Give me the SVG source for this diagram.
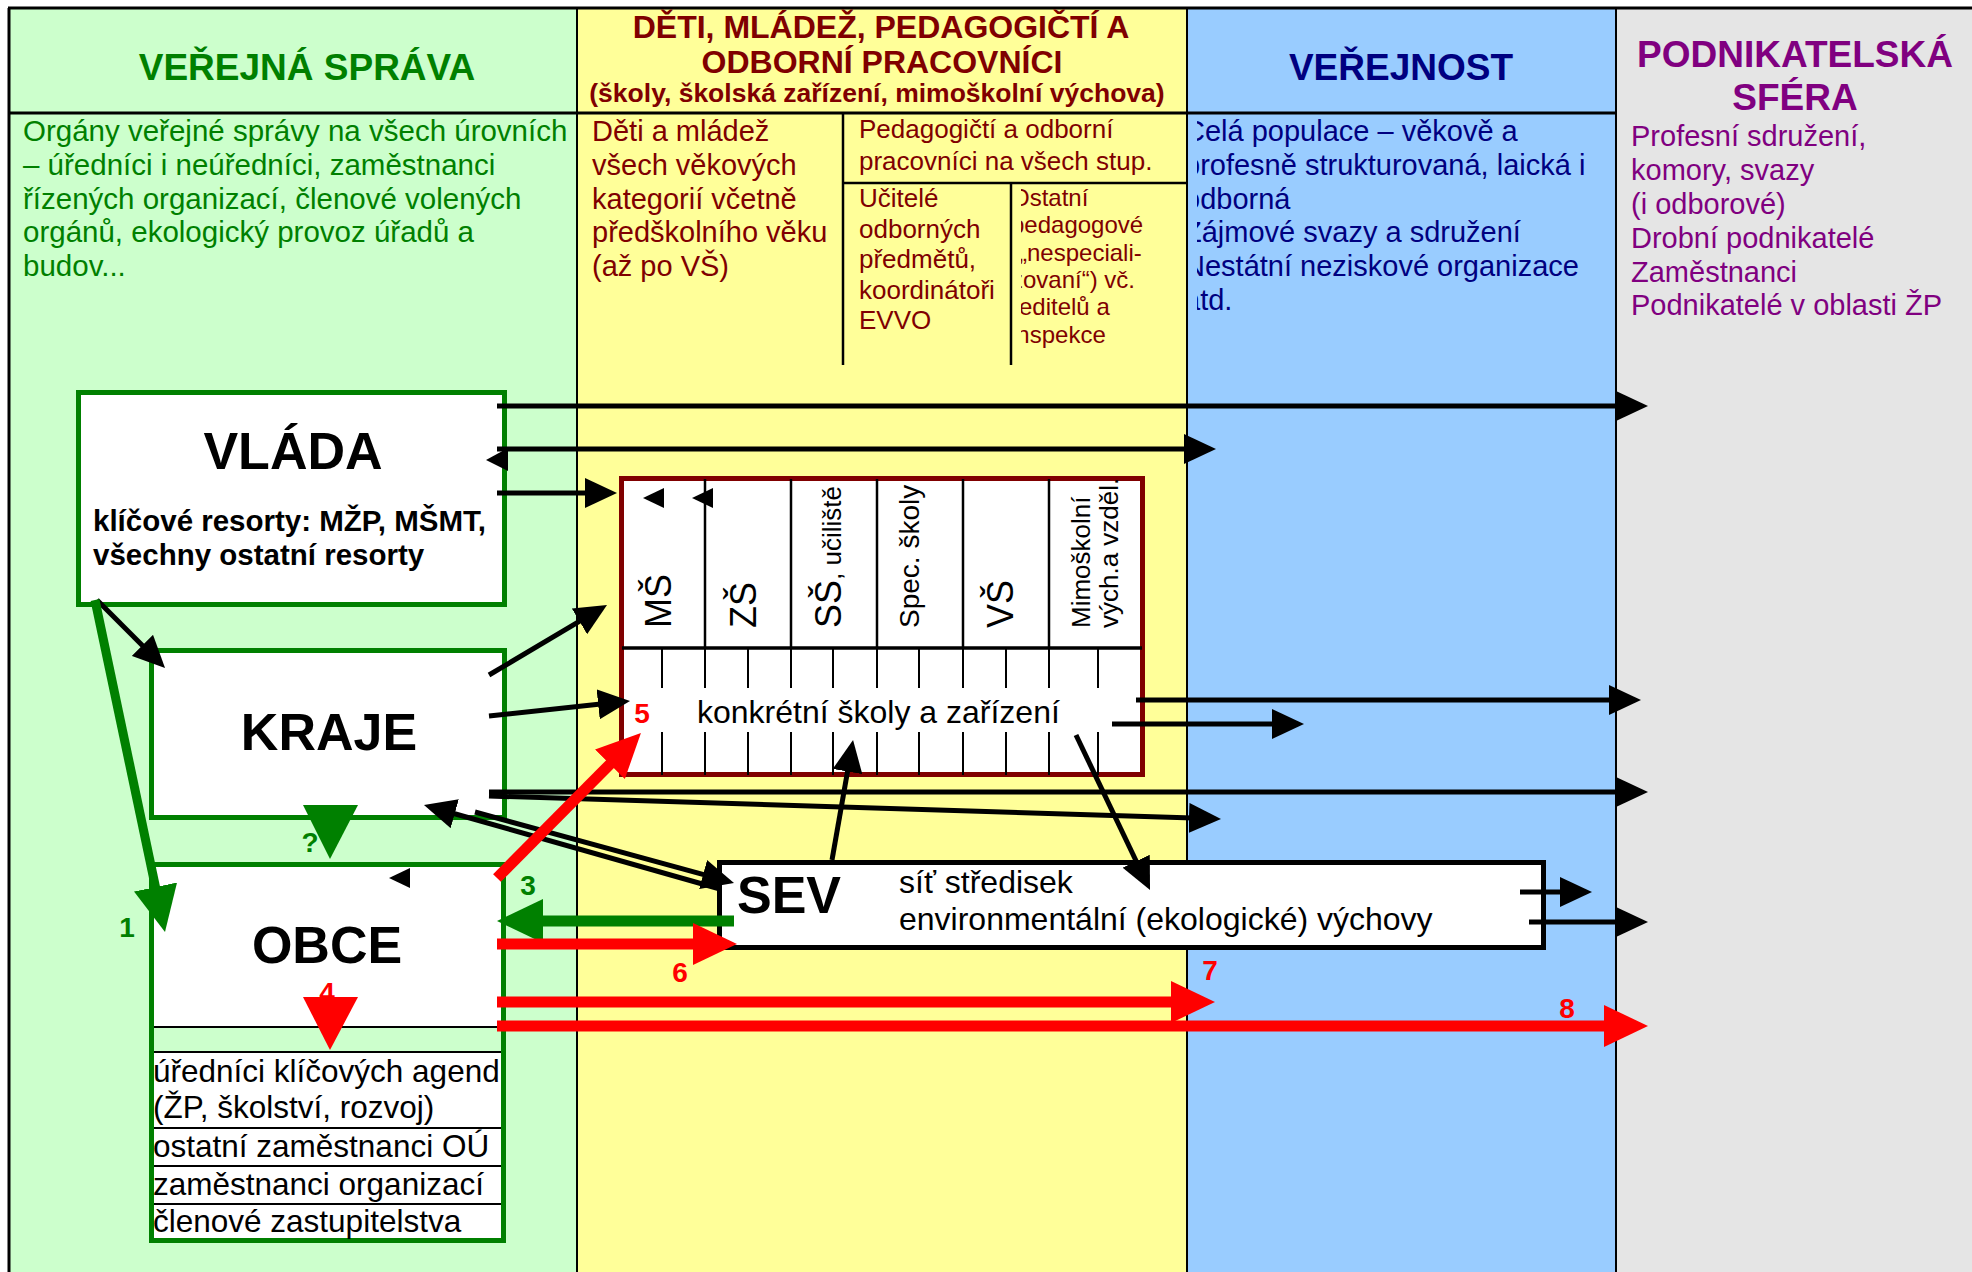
<svg xmlns="http://www.w3.org/2000/svg" width="1972" height="1272" viewBox="0 0 1972 1272">
<style>
text{font-family:"Liberation Sans",Arial,sans-serif}
.hd{font-weight:bold;font-size:37px;text-anchor:middle}
.bd{font-size:29px}
.g{fill:#008000}
.dr{fill:#800000}
.nv{fill:#000080}
.pu{fill:#800080}
.grid{stroke:#000;stroke-width:2.5;fill:none}
.box{fill:#fff;stroke:#008000;stroke-width:5}
.ln{stroke:#000;stroke-width:5;fill:none}
.thin{stroke:#000;stroke-width:2;fill:none}
.lr{stroke:#f00;stroke-width:11;fill:none}
.lg{stroke:#008000;stroke-width:11;fill:none}
.num{font-size:28px;font-weight:bold;text-anchor:middle}
.big{font-size:52px;font-weight:bold;text-anchor:middle}
.vt{font-size:36px}
</style>
<defs>
<marker id="ab" markerUnits="userSpaceOnUse" viewBox="0 0 32 30" markerWidth="32" markerHeight="30" refX="12" refY="15" orient="auto"><path d="M0,0L32,15L0,30z" fill="#000"/></marker>
<marker id="ar" markerUnits="userSpaceOnUse" viewBox="0 0 44 42" markerWidth="44" markerHeight="42" refX="14" refY="21" orient="auto"><path d="M0,0L44,21L0,42z" fill="#f00"/></marker>
<marker id="ag" markerUnits="userSpaceOnUse" viewBox="0 0 46 44" markerWidth="46" markerHeight="44" refX="16" refY="22" orient="auto"><path d="M0,0L46,22L0,44z" fill="#008000"/></marker>
<clipPath id="cb"><rect x="1197" y="114" width="418" height="250"/></clipPath>
<clipPath id="cy"><rect x="1021" y="184" width="165" height="180"/></clipPath>
</defs>

<g id="background">
<rect x="0" y="0" width="1972" height="1272" fill="#fff"/>
<rect x="8" y="8" width="569" height="1264" fill="#CCFFCC"/>
<rect x="577" y="8" width="610" height="1264" fill="#FFFF99"/>
<rect x="1187" y="8" width="429" height="1264" fill="#99CCFF"/>
<rect x="1616" y="8" width="356" height="1264" fill="#E5E5E5"/>
<line x1="8" y1="8" x2="1972" y2="8" stroke="#000" stroke-width="3"/>
<line x1="9" y1="8" x2="9" y2="1272" stroke="#000" stroke-width="3"/>
<line x1="577" y1="8" x2="577" y2="1272" stroke="#000" stroke-width="2"/>
<line x1="1187" y1="8" x2="1187" y2="1272" stroke="#000" stroke-width="2"/>
<line x1="1616" y1="8" x2="1616" y2="1272" stroke="#000" stroke-width="2"/>
<line x1="9" y1="113" x2="1616" y2="113" stroke="#000" stroke-width="3"/>
<line class="grid" x1="843" y1="113" x2="843" y2="365"/>
<line class="grid" x1="843" y1="183" x2="1187" y2="183"/>
<line class="grid" x1="1011" y1="183" x2="1011" y2="365"/>
</g>

<g id="col-verejna-sprava">
<text class="hd g" x="307" y="80">VEŘEJNÁ SPRÁVA</text>
<text class="bd g" x="23" y="141" style="font-size:29.5px">Orgány veřejné správy na všech úrovních</text>
<text class="bd g" x="23" y="175" style="font-size:29.5px">– úředníci i neúředníci, zaměstnanci</text>
<text class="bd g" x="23" y="209" style="font-size:29.5px">řízených organizací, členové volených</text>
<text class="bd g" x="23" y="242" style="font-size:29.5px">orgánů, ekologický provoz úřadů a</text>
<text class="bd g" x="23" y="276" style="font-size:29.5px">budov...</text>
</g>

<g id="col-deti">
<text class="hd dr" x="881" y="38" style="font-size:32px">DĚTI, MLÁDEŽ, PEDAGOGIČTÍ A</text>
<text class="hd dr" x="882" y="73" style="font-size:32px">ODBORNÍ PRACOVNÍCI</text>
<text class="hd dr" x="877" y="102" style="font-size:26.5px">(školy, školská zařízení, mimoškolní výchova)</text>
<text class="bd dr" x="592" y="141">Děti a mládež</text>
<text class="bd dr" x="592" y="175">všech věkových</text>
<text class="bd dr" x="592" y="209">kategorií včetně</text>
<text class="bd dr" x="592" y="242">předškolního věku</text>
<text class="bd dr" x="592" y="276">(až po VŠ)</text>
<g class="dr" style="font-size:26px">
<text x="859" y="138">Pedagogičtí a odborní</text>
<text x="859" y="170">pracovníci na všech stup.</text>
<text x="859" y="207">Učitelé</text>
<text x="859" y="238">odborných</text>
<text x="859" y="268">předmětů,</text>
<text x="859" y="299">koordinátoři</text>
<text x="859" y="329">EVVO</text>
</g>
<g class="dr" style="font-size:24px" clip-path="url(#cy)">
<text x="1011" y="206">Ostatní</text>
<text x="1011" y="233">pedagogové</text>
<text x="1011" y="261">(„nespeciali-</text>
<text x="1011" y="288">zovaní“) vč.</text>
<text x="1011" y="315">ředitelů a</text>
<text x="1011" y="343">inspekce</text>
</g>
</g>

<g id="col-verejnost">
<text class="hd nv" x="1401" y="80">VEŘEJNOST</text>
<g clip-path="url(#cb)">
<text class="bd nv" x="1184" y="141">Celá populace – věkově a</text>
<text class="bd nv" x="1184" y="175">profesně strukturovaná, laická i</text>
<text class="bd nv" x="1184" y="209">odborná</text>
<text class="bd nv" x="1184" y="242">Zájmové svazy a sdružení</text>
<text class="bd nv" x="1184" y="276">Nestátní neziskové organizace</text>
<text class="bd nv" x="1184" y="310">atd.</text>
</g>
</g>

<g id="col-podnikatelska">
<text class="hd pu" x="1795" y="67">PODNIKATELSKÁ</text>
<text class="hd pu" x="1795" y="110">SFÉRA</text>
<text class="bd pu" x="1631" y="146">Profesní sdružení,</text>
<text class="bd pu" x="1631" y="180">komory, svazy</text>
<text class="bd pu" x="1631" y="214">(i odborové)</text>
<text class="bd pu" x="1631" y="248">Drobní podnikatelé</text>
<text class="bd pu" x="1631" y="282">Zaměstnanci</text>
<text class="bd pu" x="1631" y="315">Podnikatelé v oblasti ŽP</text>
</g>

<g id="vlada">
<rect class="box" x="78.5" y="392.5" width="426" height="212"/>
<text class="big" x="293" y="469">VLÁDA</text>
<text x="93" y="531" style="font-size:29.5px;font-weight:bold">klíčové resorty: MŽP, MŠMT,</text>
<text x="93" y="565" style="font-size:29.5px;font-weight:bold">všechny ostatní resorty</text>
</g>

<g id="kraje">
<rect class="box" x="151.5" y="650.5" width="353" height="167"/>
<text class="big" x="329" y="750">KRAJE</text>
</g>

<g id="obce">
<rect x="151.5" y="864.5" width="352" height="163" fill="#fff"/>
<rect x="151.5" y="1052" width="352" height="189" fill="#fff"/>
<line class="thin" x1="151" y1="1027" x2="504" y2="1027"/>
<line class="thin" x1="151" y1="1052" x2="504" y2="1052"/>
<line class="thin" x1="151" y1="1128" x2="504" y2="1128"/>
<line class="thin" x1="151" y1="1166" x2="504" y2="1166"/>
<line class="thin" x1="151" y1="1204" x2="504" y2="1204"/>
<rect x="151.5" y="864.5" width="352" height="376" fill="none" stroke="#008000" stroke-width="5"/>
<text class="big" x="327" y="963">OBCE</text>
<g style="font-size:31.5px">
<text x="153" y="1082">úředníci klíčových agend</text>
<text x="153" y="1118">(ŽP, školství, rozvoj)</text>
<text x="153" y="1157">ostatní zaměstnanci OÚ</text>
<text x="153" y="1195">zaměstnanci organizací</text>
<text x="153" y="1232">členové zastupitelstva</text>
</g>
</g>

<g id="skoly">
<rect x="621.5" y="478.5" width="521" height="296" fill="#fff" stroke="#800000" stroke-width="5"/>
<g stroke="#000" stroke-width="2.5">
<line x1="705" y1="479" x2="705" y2="648"/>
<line x1="791" y1="479" x2="791" y2="648"/>
<line x1="877" y1="479" x2="877" y2="648"/>
<line x1="963" y1="479" x2="963" y2="648"/>
<line x1="1049" y1="479" x2="1049" y2="648"/>
<line x1="622" y1="648" x2="1142" y2="648" stroke-width="3.5"/>
</g>
<path class="thin" d="M662,648V688M705,648V688M748,648V688M791,648V688M833,648V688M877,648V688M919,648V688M963,648V688M1006,648V688M1049,648V688M1098,648V688M662,732V775M705,732V775M748,732V775M791,732V775M833,732V775M877,732V775M919,732V775M963,732V775M1006,732V775M1049,732V775M1098,732V775"/>
<text class="vt" transform="translate(671,628) rotate(-90)">MŠ</text>
<text class="vt" transform="translate(756,628) rotate(-90)">ZŠ</text>
<text transform="translate(841,628) rotate(-90)"><tspan class="vt">SŠ</tspan><tspan style="font-size:26px">, učiliště</tspan></text>
<text transform="translate(919,628) rotate(-90)" style="font-size:28px">Spec. školy</text>
<text class="vt" transform="translate(1013,628) rotate(-90)">VŠ</text>
<text transform="translate(1090,628) rotate(-90)" style="font-size:26px">Mimoškolní</text>
<text transform="translate(1118,628) rotate(-90)" style="font-size:26px">vých.a vzděl.</text>
<text x="697" y="723" style="font-size:32px">konkrétní školy a zařízení</text>
<polygon points="664,488 664,508 643,498"/>
<polygon points="713,488 713,508 692,498"/>
</g>

<g id="sev">
<rect x="719.5" y="862.5" width="824" height="85" fill="#fff" stroke="#000" stroke-width="5"/>
<text x="737" y="913" style="font-size:52px;font-weight:bold">SEV</text>
<text x="899" y="893" style="font-size:32px">síť středisek</text>
<text x="899" y="930" style="font-size:32px">environmentální (ekologické) výchovy</text>
</g>

<g id="connectors">
<line class="ln" x1="497" y1="406" x2="1628" y2="406" marker-end="url(#ab)"/>
<line class="ln" x1="497" y1="449" x2="1196" y2="449" marker-end="url(#ab)"/>
<polygon points="508,448 508,471 486,460"/>
<line class="ln" x1="497" y1="493" x2="597" y2="493" marker-end="url(#ab)"/>
<line class="ln" x1="97" y1="600" x2="150.9" y2="653.9" marker-end="url(#ab)"/>
<line class="ln" x1="489" y1="675" x2="589.8" y2="615.2" marker-end="url(#ab)"/>
<line class="ln" x1="489" y1="716" x2="610.1" y2="703.1" marker-end="url(#ab)"/>
<line class="ln" x1="489" y1="792" x2="1628" y2="792" marker-end="url(#ab)"/>
<line class="ln" x1="489" y1="796" x2="1201" y2="818.3" marker-end="url(#ab)"/>
<line class="ln" x1="720" y1="889" x2="443.2" y2="810.5" marker-end="url(#ab)"/>
<line class="ln" x1="475" y1="812" x2="714.7" y2="877.7" marker-end="url(#ab)"/>
<line class="ln" x1="1136" y1="700" x2="1621" y2="700" marker-end="url(#ab)"/>
<line class="ln" x1="1112" y1="724" x2="1284" y2="724" marker-end="url(#ab)"/>
<line class="ln" x1="1076" y1="735" x2="1141.4" y2="872" marker-end="url(#ab)"/>
<line class="ln" x1="832" y1="860" x2="849.6" y2="759.7" marker-end="url(#ab)"/>
<line class="ln" x1="1520" y1="892" x2="1572" y2="892" marker-end="url(#ab)"/>
<line class="ln" x1="1529" y1="922" x2="1628" y2="922" marker-end="url(#ab)"/>
<polygon points="410,868 410,888 389,878"/>
<line x1="95" y1="600" x2="158.8" y2="902.7" stroke="#008000" stroke-width="9" marker-end="url(#ag)"/>
<polygon points="303,805 358,805 330,859" fill="#008000"/>
<line class="lg" x1="734" y1="921" x2="527" y2="921" marker-end="url(#ag)"/>
<line class="lr" x1="497" y1="878" x2="619.8" y2="754.3" stroke-width="10" marker-end="url(#ar)"/>
<line class="lr" x1="497" y1="944" x2="707" y2="944" marker-end="url(#ar)"/>
<line class="lr" x1="497" y1="1002" x2="1185" y2="1002" marker-end="url(#ar)"/>
<line class="lr" x1="497" y1="1026" x2="1618" y2="1026" marker-end="url(#ar)"/>
</g>

<g id="labels">
<text class="num g" x="127" y="937">1</text>
<text class="num g" x="310" y="852">?</text>
<text class="num g" x="528" y="895">3</text>
<text class="num" x="327" y="1002" fill="#f00">4</text>
<polygon points="303,997 358,997 330,1050" fill="#f00"/>
<text class="num" x="642" y="723" fill="#f00">5</text>
<text class="num" x="680" y="982" fill="#f00">6</text>
<text class="num" x="1210" y="980" fill="#f00">7</text>
<text class="num" x="1567" y="1018" fill="#f00">8</text>
</g>
</svg>
